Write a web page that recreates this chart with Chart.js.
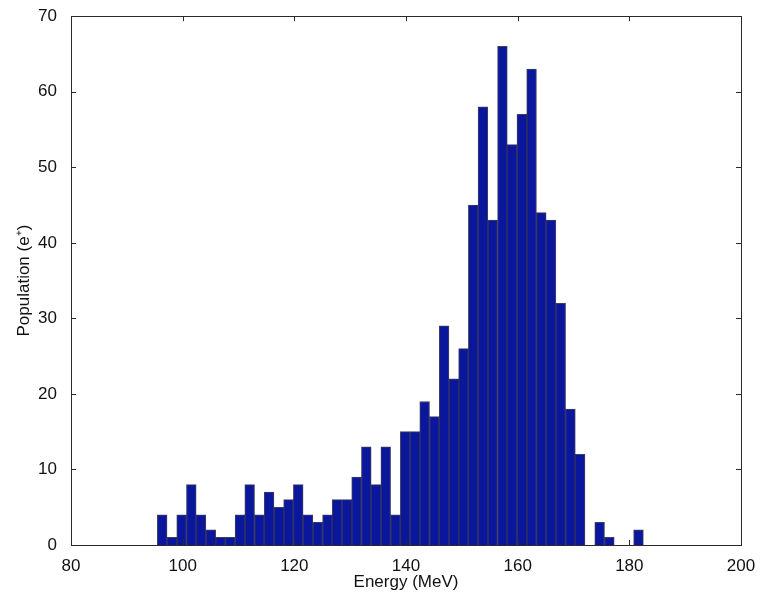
<!DOCTYPE html>
<html>
<head>
<meta charset="utf-8">
<title>Energy histogram</title>
<script src="https://cdn.jsdelivr.net/npm/chart.js@4"></script>
<style>
  html, body { margin: 0; padding: 0; background: #fff; }
  canvas { display: block; }
</style>
</head>
<body>
<canvas id="histChart" width="762" height="598"></canvas>
<script>
// bin centres (MeV), 50 bins
const binCenters = [
  96.33, 98.07, 99.81, 101.55, 103.29, 105.04, 106.78, 108.52, 110.26, 112.0,
  113.74, 115.48, 117.22, 118.96, 120.7, 122.45, 124.19, 125.93, 127.67, 129.41,
  131.15, 132.89, 134.63, 136.37, 138.11, 139.86, 141.6, 143.34, 145.08, 146.82,
  148.56, 150.3, 152.04, 153.78, 155.52, 157.27, 159.01, 160.75, 162.49, 164.23,
  165.97, 167.71, 169.45, 171.19, 172.93, 174.68, 176.42, 178.16, 179.9, 181.64
];
const counts = [
  4, 1, 4, 8, 4, 2, 1, 1, 4, 8,
  4, 7, 5, 6, 8, 4, 3, 4, 6, 6,
  9, 13, 8, 13, 4, 15, 15, 19, 17, 29,
  22, 26, 45, 58, 43, 66, 53, 57, 63, 44,
  43, 32, 18, 12, 0, 3, 1, 0, 0, 2
];
const xTicks = [80, 100, 120, 140, 160, 180, 200];
const yTicks = [0, 10, 20, 30, 40, 50, 60, 70];

const FONT = { family: "'Liberation Sans', Arial, Helvetica, sans-serif", size: 17 };

// matlab style box with ticks pointing inwards
const boxTicks = {
  id: "boxTicks",
  afterDraw(chart) {
    const ctx = chart.ctx;
    const a = chart.chartArea;
    const xs = chart.scales.x;
    const ys = chart.scales.y;
    const len = 5;
    ctx.save();
    ctx.strokeStyle = "#2a2a2a";
    ctx.lineWidth = 1;
    ctx.beginPath();
    xTicks.forEach(function (v) {
      const px = Math.round(xs.getPixelForValue(v)) + 0.5;
      ctx.moveTo(px, a.bottom);
      ctx.lineTo(px, a.bottom - len);
      ctx.moveTo(px, a.top);
      ctx.lineTo(px, a.top + len);
    });
    yTicks.forEach(function (v) {
      const py = Math.round(ys.getPixelForValue(v)) + 0.5;
      ctx.moveTo(a.left, py);
      ctx.lineTo(a.left + len, py);
      ctx.moveTo(a.right, py);
      ctx.lineTo(a.right - len, py);
    });
    ctx.stroke();
    ctx.strokeRect(Math.round(a.left) + 0.5, Math.round(a.top) + 0.5,
      Math.round(a.right - a.left), Math.round(a.bottom - a.top));
    ctx.restore();
  },
};

const ctx = document.getElementById("histChart").getContext("2d");
const chart = new Chart(ctx, {
  type: "bar",
  data: {
    datasets: [
      {
        label: "Population",
        data: binCenters.map(function (x, i) {
          return { x: x, y: counts[i] };
        }),
        backgroundColor: "#0a169c",
        borderColor: "rgba(0, 0, 40, 0.75)",
        borderWidth: 1,
        barPercentage: 1,
        categoryPercentage: 1,
      },
    ],
  },
  options: {
    responsive: false,
    animation: false,
    layout: { padding: { top: 12, right: 21, left: 0, bottom: 0 } },
    plugins: {
      legend: { display: false },
      tooltip: { enabled: false },
    },
    scales: {
      x: {
        type: "linear",
        offset: false,
        min: 80,
        max: 200,
        grid: { display: false },
        border: { display: false },
        afterBuildTicks: function (scale) {
          scale.ticks = xTicks.map(function (v) { return { value: v }; });
        },
        afterFit: function (scale) { scale.height = 53; },
        ticks: { color: "#111", font: FONT, padding: 3, maxRotation: 0 },
        title: {
          display: true,
          text: "Energy (MeV)",
          color: "#111",
          font: FONT,
          padding: { top: 0, bottom: 5 },
        },
      },
      y: {
        min: 0,
        max: 70,
        grid: { display: false },
        border: { display: false },
        afterBuildTicks: function (scale) {
          scale.ticks = yTicks.map(function (v) { return { value: v }; });
        },
        afterFit: function (scale) { scale.width = 71; },
        ticks: { color: "#111", font: FONT, padding: 6 },
        title: {
          display: true,
          text: "Population (e\u207A)",
          color: "#111",
          font: FONT,
          padding: { top: 14, bottom: 0 },
        },
      },
    },
  },
  plugins: [boxTicks],
});
</script>
</body>
</html>
